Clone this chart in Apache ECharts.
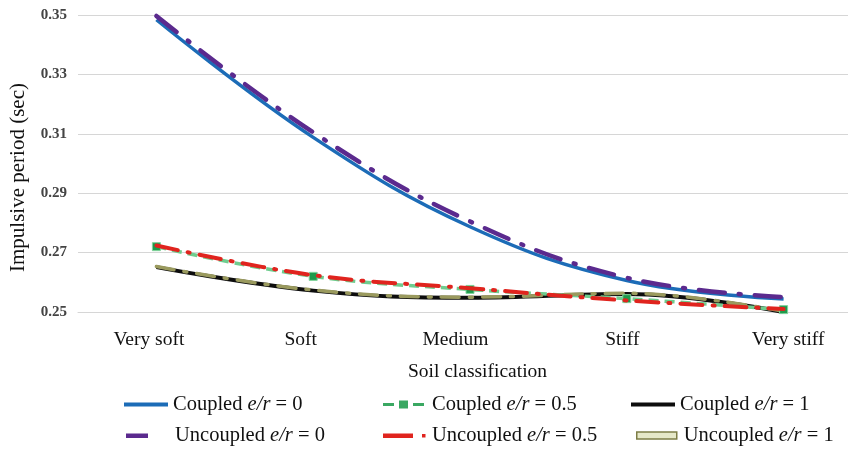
<!DOCTYPE html>
<html>
<head>
<meta charset="utf-8">
<script src="https://cdn.jsdelivr.net/npm/echarts@6/dist/echarts.min.js"></script>
<style>
  html, body { margin: 0; padding: 0; background: #fff; overflow: hidden; }
  /* plot area runs a little past the right edge of the window, as in the reference */
  #chart { width: 862px; height: 450px; }
</style>
</head>
<body>
<div id="chart"></div>
<script>
var categories = ['Very soft', 'Soft', 'Medium', 'Stiff', 'Very stiff'];
var yTicks = [0.25, 0.27, 0.29, 0.31, 0.33, 0.35];

var coupled0 = [0.3484, 0.3088, 0.2787, 0.2606, 0.2544];
var uncoupled0 = [0.3497, 0.3105, 0.2805, 0.2615, 0.2550];
var coupled05 = [0.2720, 0.2620, 0.2576, 0.2545, 0.2508];
var uncoupled05 = [0.2724, 0.2624, 0.2580, 0.2539, 0.2510];
var coupled1 = [0.2651, 0.2572, 0.2548, 0.2561, 0.2500];
var uncoupled1 = [0.2653, 0.2574, 0.2550, 0.2563, 0.2502];

var serif = '"Liberation Serif", "DejaVu Serif", serif';

(function() {
  var myChart = echarts.init(document.getElementById('chart'));

  // legend icons drawn in a 44x12 box (corner points keep the box size)
  var box = ' M0,0L0,0 M44,12L44,12';
  var icons = {
    solid: 'path://M0,4h44v4h-44z' + box,
    greenDash: 'path://M0,4.5h11v3h-11z M16,2h9v8h-9z M30,4.5h11v3h-11z' + box,
    purpleDash: 'path://M0,4h22v4.5h-22z' + box,
    redDash: 'path://M0,4h30v4.5h-30z M39,4.5h3.5v3.5h-3.5z' + box,
    oliveBar: 'path://M2,2.5h40v7h-40z' + box
  };

  function legendAt(name, left, top, icon, style) {
    return {
      data: [{ name: name, icon: icon, itemStyle: style }],
      left: left,
      top: top,
      itemWidth: 44,
      itemHeight: 12,
      itemGap: 0,
      formatter: function(n) { return n.replace('e/r', '{i|e/r}'); },
      textStyle: {
        fontFamily: serif,
        fontSize: 20.5,
        color: '#111',
        rich: { i: { fontFamily: serif, fontSize: 20.5, fontStyle: 'italic', color: '#111' } }
      }
    };
  }

  // small per-label shifts so category names sit where the reference has them
  var labelPad = [[0, 15, 0, 0], [0, 25, 0, 0], [0, 29, 0, 0], [0, 9, 0, 0], [0, 0, 0, 9]];
  var labelRich = {};
  labelPad.forEach(function(p, i) {
    labelRich['s' + i] = { fontFamily: serif, fontSize: 19.5, color: '#111', padding: p };
  });

  var option = {
    backgroundColor: '#fff',
    animation: false,
    grid: { left: 77, right: 0, top: 15, bottom: 138 },
    legend: [
      legendAt('Coupled e/r = 0', 119, 389, icons.solid, { color: '#1c6cb7', borderWidth: 0 }),
      legendAt('Coupled e/r = 0.5', 378, 389, icons.greenDash, { color: '#3aa862', borderWidth: 0 }),
      legendAt('Coupled e/r = 1', 626, 389, icons.solid, { color: '#0d0d0d', borderWidth: 0 }),
      legendAt('Uncoupled e/r = 0', 121, 420, icons.purpleDash, { color: '#5b2a8e', borderWidth: 0 }),
      legendAt('Uncoupled e/r = 0.5', 378, 420, icons.redDash, { color: '#e0241e', borderWidth: 0 }),
      legendAt('Uncoupled e/r = 1', 629, 420, icons.oliveBar,
        { color: '#e6e8c8', borderColor: '#7d7d45', borderWidth: 1.5 })
    ],
    xAxis: {
      type: 'category',
      data: categories,
      boundaryGap: true,
      name: 'Soil classification',
      nameLocation: 'middle',
      nameGap: 50,
      nameTextStyle: { fontFamily: serif, fontSize: 19.5, color: '#111', padding: [0, 0, 0, 15] },
      axisLine: { show: true, lineStyle: { color: '#d6d6d6', width: 1 } },
      axisTick: { show: false },
      axisLabel: {
        fontFamily: serif, fontSize: 19.5, color: '#111', margin: 18,
        formatter: function(v, i) { return '{s' + i + '|' + v + '}'; },
        rich: labelRich
      }
    },
    yAxis: {
      type: 'value',
      min: yTicks[0],
      max: yTicks[yTicks.length - 1],
      interval: 0.02,
      name: 'Impulsive period (sec)',
      nameLocation: 'middle',
      nameGap: 49,
      nameTextStyle: { fontFamily: serif, fontSize: 21, color: '#111', padding: [0, 28, 0, 0] },
      axisLine: { show: false },
      axisTick: { show: false },
      axisLabel: {
        fontFamily: serif, fontSize: 15, fontWeight: 'bold', color: '#444', margin: 11,
        formatter: function(v) { return v.toFixed(2); }
      },
      splitLine: { lineStyle: { color: '#d6d6d6', width: 1 } }
    },
    series: [
      {
        name: 'Coupled e/r = 0', type: 'line', data: coupled0, smooth: 0.4,
        symbol: 'none', z: 2,
        itemStyle: { color: '#1c6cb7' },
        lineStyle: { color: '#1c6cb7', width: 3.5 }
      },
      {
        name: 'Coupled e/r = 0.5', type: 'line', data: coupled05, smooth: 0.4,
        symbol: 'rect', symbolSize: 8, showSymbol: true, z: 3,
        itemStyle: { color: '#1f9a4c', borderColor: '#7fd39b', borderWidth: 1 },
        lineStyle: { color: '#6fcc8e', width: 3.5, type: [10, 6] }
      },
      {
        name: 'Coupled e/r = 1', type: 'line', data: coupled1, smooth: 0.4,
        symbol: 'none', z: 2,
        itemStyle: { color: '#0d0d0d' },
        lineStyle: { color: '#0d0d0d', width: 4 }
      },
      {
        name: 'Uncoupled e/r = 0', type: 'line', data: uncoupled0, smooth: 0.4,
        symbol: 'none', z: 3,
        itemStyle: { color: '#5b2a8e' },
        lineStyle: { color: '#5b2a8e', width: 4.5, type: [26, 14, 2, 14], cap: 'round' }
      },
      {
        name: 'Uncoupled e/r = 0.5', type: 'line', data: uncoupled05, smooth: 0.4,
        symbol: 'none', z: 4,
        itemStyle: { color: '#e0241e' },
        lineStyle: { color: '#e0241e', width: 4, type: [22, 10, 2, 10], cap: 'round' }
      },
      {
        name: 'Uncoupled e/r = 1', type: 'line', data: uncoupled1, smooth: 0.4,
        symbol: 'none', z: 3,
        itemStyle: { color: '#9a9a5e' },
        lineStyle: { color: '#9a9a5e', width: 3.5, type: [18, 10, 3, 10], cap: 'round' }
      }
    ]
  };
  myChart.setOption(option);
})();
</script>
</body>
</html>
